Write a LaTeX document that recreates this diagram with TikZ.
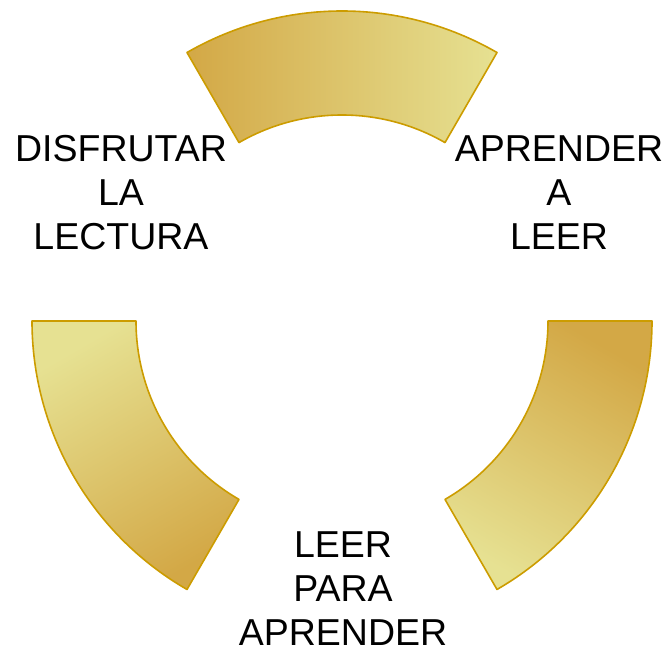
\documentclass[tikz,border=0pt]{standalone}
\usepackage{fontspec}
\setmainfont{Liberation Sans}
\usepackage{xcolor}
\definecolor{golddark}{HTML}{D3A846}
\definecolor{goldlight}{HTML}{E6E192}
\definecolor{goldline}{HTML}{CC9C00}

\begin{document}
\begin{tikzpicture}[
    x=1pt, y=1pt,
    seg/.style={draw=goldline, line width=1.6pt, line join=round, top color=golddark, bottom color=goldlight},
    lbl/.style={align=center, inner sep=0pt, font=\fontsize{37.5}{44}\selectfont}
]
    \useasboundingbox (-342,-331) rectangle (326,321);

    % ring segments, 60 degrees each
    \shadedraw[seg, shading angle=90] (60:310pt) arc[start angle=60, end angle=120, radius=310pt]
        -- (120:206pt) arc[start angle=120, end angle=60, radius=206pt] -- cycle;
    \shadedraw[seg, shading angle=330] (0:310pt) arc[start angle=0, end angle=-60, radius=310pt]
        -- (-60:206pt) arc[start angle=-60, end angle=0, radius=206pt] -- cycle;
    \shadedraw[seg, shading angle=210] (180:310pt) arc[start angle=180, end angle=240, radius=310pt]
        -- (240:206pt) arc[start angle=240, end angle=180, radius=206pt] -- cycle;

    \node[lbl] (learn) at (217,128) {APRENDER\\A\\LEER};
    \node[lbl] (enjoy) at (-221,128) {DISFRUTAR\\LA\\LECTURA};
    \node[lbl] (read) at (1,-268) {LEER\\PARA\\APRENDER};
\end{tikzpicture}
\end{document}
